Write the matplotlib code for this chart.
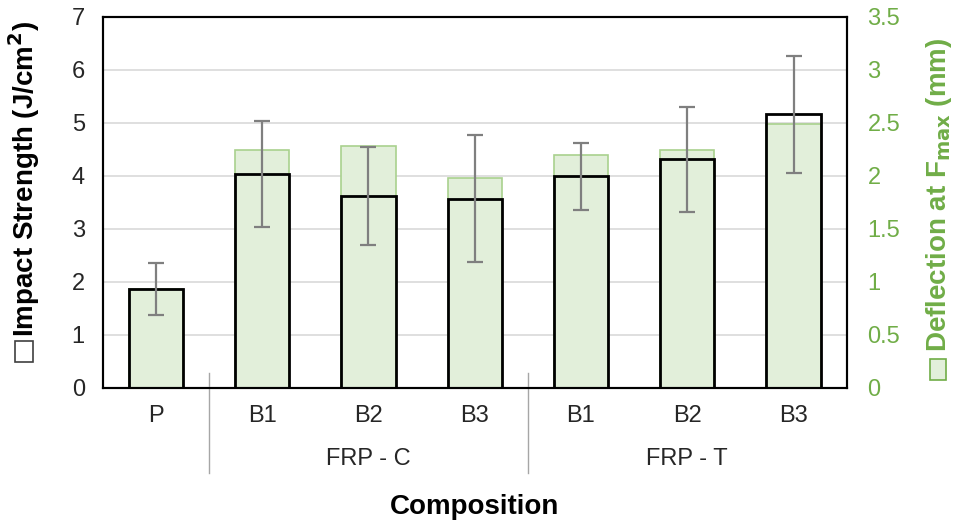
import numpy as np
import matplotlib.pyplot as plt
from matplotlib.patches import Rectangle
from matplotlib.transforms import blended_transform_factory

plt.rcParams['font.family'] = ['Liberation Sans', 'DejaVu Sans']

# samples: plain matrix, then FRP-C and FRP-T batches
samples = ["P", "B1", "B2", "B3", "B1", "B2", "B3"]
groups = ["FRP - C", "FRP - T"]
group_centers = [2, 5]
separators = [0.5, 3.5]

impact = [1.87, 4.04, 3.62, 3.57, 3.99, 4.31, 5.16]          # J/cm2
impact_err = [0.49, 1.00, 0.93, 1.20, 0.63, 0.99, 1.10]
deflection = [0.93, 2.24, 2.28, 1.98, 2.20, 2.24, 2.49]      # mm

GREEN_FILL = "#e2efda"
GREEN_EDGE = "#a9d18e"
GREEN_TEXT = "#70ad47"
DARK_TEXT = "#262626"

fig = plt.figure(figsize=(9.61, 5.25), dpi=100)
ax = fig.add_axes([0.107, 0.261, 0.774, 0.707])
ax2 = ax.twinx()

# deflection bars sit underneath, grid belongs to this axis
ax.set_zorder(ax2.get_zorder() + 1)
ax.patch.set_visible(False)
ax2.patch.set_visible(True)
ax2.patch.set_facecolor("white")

x = np.arange(len(samples))
width = 0.51

ax2.bar(x, deflection, width, color=GREEN_FILL, edgecolor=GREEN_EDGE, linewidth=1.2, zorder=2)
ax2.set_ylim(0, 3.5)
ax2.set_yticks(np.arange(0, 3.51, 0.5))
ax2.set_yticklabels(["0", "0.5", "1", "1.5", "2", "2.5", "3", "3.5"])
ax2.grid(axis="y", color="#d9d9d9", linewidth=1.2, zorder=0)
ax2.set_axisbelow(True)
ax2.tick_params(axis="y", length=0, pad=15, labelsize=17, labelcolor=GREEN_TEXT)

ax.bar(x, impact, width, facecolor="none", edgecolor="black", linewidth=2, zorder=3)
ax.errorbar(x, impact, yerr=impact_err, fmt="none", ecolor="#7f7f7f",
            elinewidth=1.6, capsize=6, capthick=1.6, zorder=4)
ax.set_ylim(0, 7)
ax.set_xlim(-0.5, 6.5)
ax.set_yticks(range(0, 8))
ax.tick_params(axis="y", length=0, pad=13, labelsize=17, labelcolor=DARK_TEXT)
ax.set_xticks(x)
ax.set_xticklabels(samples)
ax.tick_params(axis="x", length=0, pad=12, labelsize=17, labelcolor=DARK_TEXT)

for a in (ax, ax2):
    for sp in a.spines.values():
        sp.set_color("black")
        sp.set_linewidth(1.5)

# second level of category labels and the group separators
trans = blended_transform_factory(ax.transData, ax.transAxes)
for cx, name in zip(group_centers, groups):
    ax.text(cx, -(459 - 388) / 371, name, transform=trans, ha="center", va="center",
            fontsize=17, color=DARK_TEXT)
for sx in separators:
    ax.plot([sx, sx], [0.04, -(473 - 388) / 371], transform=trans, color="#a6a6a6",
            linewidth=1, clip_on=False)

fig.text(0.5 * (103 + 847) / 961, 1 - 507 / 525, "Composition", ha="center", va="center",
         fontsize=20, fontweight="bold", color="black")

# axis titles with their legend swatches
fig.text(24 / 961, 1 - 337 / 525, "Impact Strength (J/cm$^\\mathbf{2}$)", rotation=90,
         ha="center", va="bottom", fontsize=20, fontweight="bold", color="black")
fig.add_artist(Rectangle((15 / 961, 1 - 362 / 525), 18 / 961, 21 / 525,
                         transform=fig.transFigure, facecolor="white",
                         edgecolor="#404040", linewidth=1.2))

fig.text(939 / 961, 1 - 352 / 525, "Deflection at F$_{\\mathbf{max}}$ (mm)", rotation=90,
         ha="center", va="bottom", fontsize=20, fontweight="bold", color=GREEN_TEXT)
fig.add_artist(Rectangle((930 / 961, 1 - 380 / 525), 16 / 961, 21 / 525,
                         transform=fig.transFigure, facecolor=GREEN_FILL,
                         edgecolor=GREEN_TEXT, linewidth=1.2))

fig.savefig("out.png", dpi=100)
